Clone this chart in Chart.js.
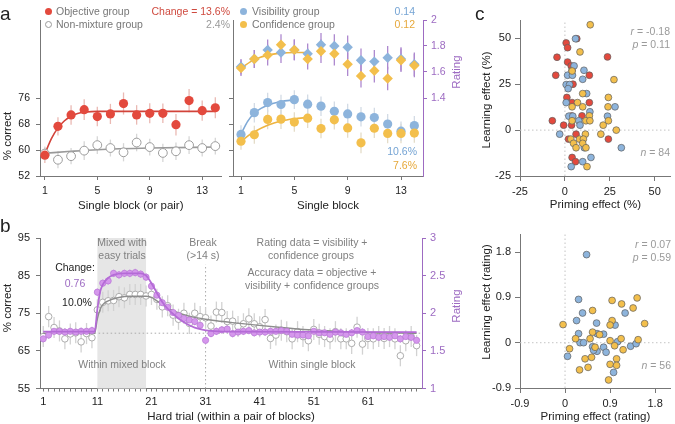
<!DOCTYPE html>
<html>
<head>
<meta charset="utf-8">
<title>Learning and priming effects</title>
<script src="https://cdn.jsdelivr.net/npm/chart.js@4.4.1/dist/chart.umd.min.js"></script>
<style>
  html, body { margin: 0; padding: 0; background: #fff; }
  #fig { position: relative; width: 675px; height: 424px; overflow: hidden;
         font-family: 'Liberation Sans', Arial, Helvetica, sans-serif; }
  #fig canvas { position: absolute; }
  .note { position: absolute; white-space: nowrap; line-height: 1; font-size: 10.5px; }
  .dot { position: absolute; width: 7px; height: 7px; border-radius: 50%; box-sizing: border-box; }
</style>
</head>
<body>
<div id="fig">
  <canvas id="aLeft" width="227" height="213" style="left:0;top:0"></canvas>
  <canvas id="aRight" width="239" height="213" style="left:226px;top:0"></canvas>
  <canvas id="bChart" width="465" height="209" style="left:0;top:215px"></canvas>
  <canvas id="cTop" width="212" height="212" style="left:463px;top:0"></canvas>
  <canvas id="cBottom" width="212" height="208" style="left:463px;top:216px"></canvas>
</div>
<script>
Chart.defaults.font.family = "'Liberation Sans', Arial, Helvetica, sans-serif"
Chart.defaults.color = '#222'

const RED = '#e3493d', BLUE = '#8db4dc', YELLOW = '#f3bf4c'
const PURPLE = '#9d6bc2', PURPLE_FILL = '#d597ec', PURPLE_LINE = '#b46bd6'
const AXIS = '#777'

// ---- panel a: per-block accuracy / rating ----
const blocks = [1, 2, 3, 4, 5, 6, 7, 8, 9, 10, 11, 12, 13, 14]
const blockTicks = [1, 5, 9, 13]
const pctTicksA = [52, 60, 68, 76]
const ratingTicksA = [1.4, 1.6, 1.8, 2]

const objectivePct = [58.4, 67.3, 70.8, 72.4, 70.3, 71.1, 74.3, 70.8, 71.3, 71.3, 67.8, 75.2, 72.1, 73.0]
const objectiveErr = [2.4, 2.8, 3.0, 3.2, 3.0, 3.1, 3.4, 3.0, 3.1, 3.0, 3.3, 3.6, 3.1, 3.2]
const nonMixPct = [58.9, 57.0, 58.1, 59.8, 61.5, 60.6, 59.3, 62.3, 60.9, 59.1, 59.6, 61.5, 60.6, 61.2]
const nonMixErr = [2.2, 2.6, 2.5, 2.9, 2.7, 2.6, 2.8, 2.7, 2.6, 2.8, 2.7, 2.7, 2.6, 2.6]
const objectiveFitX = [1, 1.5, 2, 2.5, 3, 3.5, 4, 5, 14]
const objectiveFitY = [58.8, 63.5, 66.8, 69.0, 70.4, 71.2, 71.6, 71.9, 71.9]
const nonMixFitX = [1, 3, 5, 9, 14]
const nonMixFitY = [59.0, 59.6, 60.1, 60.6, 60.9]

const visibilityPct = [64.8, 71.5, 74.6, 74.0, 75.5, 74.1, 73.5, 71.9, 71.1, 70.2, 70.0, 68.0, 65.8, 67.5]
const visibilityPctErr = [2.8, 3.0, 3.0, 3.0, 2.9, 3.0, 3.0, 3.0, 3.1, 3.0, 3.0, 3.1, 3.0, 3.0]
const confidencePct = [62.7, 64.7, 69.4, 69.5, 68.6, 69.8, 66.6, 69.3, 66.8, 62.2, 66.7, 65.1, 65.1, 65.2]
const confidencePctErr = [2.6, 2.8, 3.0, 3.0, 3.0, 3.0, 3.0, 3.0, 3.0, 3.2, 3.0, 3.0, 3.0, 3.0]
const visibilityRating = [1.64, 1.70, 1.77, 1.75, 1.77, 1.74, 1.81, 1.80, 1.79, 1.69, 1.68, 1.71, 1.70, 1.66]
const confidenceRating = [1.63, 1.70, 1.73, 1.81, 1.77, 1.70, 1.76, 1.74, 1.66, 1.57, 1.61, 1.55, 1.69, 1.65]
const ratingErrA = [0.06, 0.07, 0.08, 0.08, 0.08, 0.08, 0.09, 0.09, 0.09, 0.09, 0.09, 0.09, 0.09, 0.09]
const visibilityFitX = [1, 1.5, 2, 2.5, 3, 4, 5]
const visibilityFitY = [64.9, 68.8, 71.3, 72.8, 73.8, 74.9, 75.4]
const confidenceFitX = [1, 1.5, 2, 3, 4, 5, 6]
const confidenceFitY = [62.6, 64.3, 65.6, 67.6, 68.9, 69.6, 70.0]
const ratingFitX = [1, 2, 3, 4, 5, 6]
const ratingFitY = [1.63, 1.695, 1.73, 1.745, 1.75, 1.75]

// ---- panel b: per-trial time course ----
const trials = Array.from({length: 70}, (_, i) => i + 1)
const trialLabels = [1, 11, 21, 31, 41, 51, 61]
const pctTicksB = [55, 65, 75, 85, 95]
const ratingTicksB = [1, 1.5, 2, 2.5, 3]
const accuracyPct = [
  68.8, 74.1, 71.2, 70.3, 68.2, 69.5, 69.8, 67.4, 69.6, 68.5,
  75.9, 77.9, 78.3, 78.4, 79.4, 79.1, 80.0, 80.0, 80.0, 79.6,
  80.0, 78.7, 76.7, 77.0, 74.5, 73.4, 75.0, 72.3, 75.0, 74.1,
  73.8, 71.6, 75.3, 75.2, 72.8, 72.9, 71.5, 72.2, 73.5, 72.2,
  71.4, 73.3, 68.3, 69.2, 70.5, 70.1, 68.2, 70.1, 68.8, 67.7,
  70.7, 69.4, 68.8, 68.2, 70.1, 68.2, 68.2, 67.0, 71.3, 66.8,
  68.3, 68.2, 68.8, 68.3, 68.8, 68.2, 63.7, 67.7, 68.8, 66.4]
const ratingB = [
  1.66, 1.71, 1.76, 1.76, 1.75, 1.76, 1.75, 1.76, 1.76, 1.77,
  2.28, 2.40, 2.43, 2.53, 2.51, 2.53, 2.53, 2.54, 2.52, 2.48,
  2.36, 2.24, 2.14, 2.08, 2.01, 1.97, 1.93, 1.91, 1.89, 1.84,
  1.64, 1.73, 1.76, 1.78, 1.79, 1.73, 1.75, 1.76, 1.77, 1.74,
  1.75, 1.75, 1.76, 1.76, 1.77, 1.76, 1.72, 1.71, 1.71, 1.70,
  1.76, 1.74, 1.74, 1.72, 1.75, 1.74, 1.72, 1.74, 1.77, 1.75,
  1.69, 1.70, 1.68, 1.69, 1.68, 1.70, 1.66, 1.69, 1.68, 1.64]
const accuracyErrB = 2.8
const ratingErrB = 0.05
const ratingFitBX = [1, 10.5, 11, 11.5, 12, 13, 14, 16, 19, 20, 21, 22, 23, 24, 25, 26, 27, 28, 29, 30, 32, 35, 70]
const ratingFitBY = [1.755, 1.755, 2.05, 2.28, 2.38, 2.47, 2.51, 2.53, 2.53, 2.50, 2.40, 2.27, 2.15, 2.06, 1.99, 1.93, 1.88, 1.84, 1.81, 1.79, 1.765, 1.755, 1.75]
const accuracyFitBX = [1, 10.5, 11, 11.5, 12, 13, 15, 17, 20, 21, 22, 23, 24, 25, 27, 29, 31, 33, 36, 40, 45, 50, 55, 60, 70]
const accuracyFitBY = [69.7, 69.7, 73.5, 76.0, 77.3, 78.3, 79.2, 79.5, 79.5, 79.2, 78.3, 77.3, 76.4, 75.7, 74.6, 73.9, 73.4, 73.0, 72.5, 71.9, 71.2, 70.6, 70.2, 69.9, 69.7]
const baselinePct = 69.7
const mixedTrials = [11, 20]
const breakTrial = 31

// ---- panel c: priming vs learning per participant ----
const effectTicks = [-25, 0, 25, 50]
const ratingEffectTicks = [-0.9, 0, 0.9, 1.8]
const objectiveEffects = [[6.6, 49.8], [0.7, 47.5], [1.5, 44.9], [-4.4, 39.7], [23.7, 39.9], [1.5, 37.1], [3.5, 35], [4, 32.6],
  [13.6, 29.9], [-5.1, 29.9], [4.5, 25], [1.1, 17.8], [4, 15], [13.6, 15], [-7, 5.1], [-0.7, 2.7], [3.7, 7.7], [9.5, 7.8],
  [3.7, 2.7], [6.2, -2.2], [2, -4.9], [24.2, -4.9], [4, -14.9], [5.9, -17.2]]
const visibilityEffects = [[5.9, 49.8], [5.1, 35], [10.6, 32.6], [1.5, 29.9], [4.2, 29.9], [9.9, 27.7], [0.7, 24.8], [2.6, 24.8],
  [1.8, 22.6], [12.1, 19.9], [0.7, 15], [27.9, 12.7], [13.9, 10], [2.2, 7.6], [4.4, 7.6], [23.7, 7.6], [7.7, 5.1], [8.4, 2.7],
  [-2.9, -2.2], [10.8, -9.6], [31.4, -9.6], [14.5, -14.9], [9.9, -17.2], [3.5, -19.9]]
const confidenceEffects = [[14.1, 57.4], [8.4, 42.6], [4, 32.2], [27.3, 27.5], [9.9, 19.9], [24.2, 17.8], [7, 15], [4, 12.7],
  [9.9, 12.7], [24, 12.7], [13.6, 7.8], [4, 5.1], [11.7, 5.1], [13.9, 5.1], [24.2, 5.1], [21.3, 2.7], [28.6, 0], [11.4, -2.2],
  [20, -2.2], [3.3, -4.9], [8.1, -4.9], [10.3, -4.9], [4.8, -7.2], [9.9, -7.2], [6.2, -9.6], [11.7, -9.6], [12.3, -19.9]]
const visibilityRatingEffects = [[0.43, 1.75], [0.27, 0.86], [0.35, 0.59], [1.2, 0.59], [0.23, 0.44], [0.63, 0.39], [1.0, 0.35],
  [0.64, 0.18], [0.77, 0.17], [0.27, 0.18], [0.3, 0.0], [0.37, 0.0], [0.05, -0.27], [0.55, -0.08], [0.77, -0.09], [0.82, -0.19],
  [0.64, -0.17], [1.05, 0.02], [1.31, -0.07], [1.42, -0.02], [0.97, -0.59], [0.57, -0.15]]
const confidenceRatingEffects = [[0.94, 0.84], [1.13, 0.77], [1.44, 0.89], [1.36, 0.69], [0.55, 0.64], [-0.04, 0.36], [0.94, 0.44],
  [0.9, 0.35], [1.59, 0.38], [0.55, 0.21], [0.69, 0.16], [0.21, 0.08], [0.09, -0.12], [0.6, -0.09], [0.9, 0.04], [0.99, -0.06],
  [1.12, 0.08], [1.16, -0.14], [1.46, 0.06], [0.4, -0.32], [0.53, -0.29], [0.46, -0.49], [0.29, -0.54], [1.03, -0.32],
  [0.9, -0.43], [1.03, -0.45], [0.87, -0.74], [0.5, 0.08]]

const xy = (xs, ys) => xs.map((x, i) => ({x: x, y: ys[i]}))
const pairs = list => list.map(p => ({x: p[0], y: p[1]}))

// vertical error bars, drawn under the points
const errorBars = {
  id: 'errorBars',
  beforeDatasetsDraw(chart){
    const ctx = chart.ctx
    chart.data.datasets.forEach(ds => {
      if(ds.errors === undefined) return
      const xs = chart.scales.x
      const ys = chart.scales[ds.yAxisID || 'y']
      ctx.save()
      ctx.strokeStyle = ds.errorColor
      ctx.lineWidth = 1.3
      ds.data.forEach((p, i) => {
        const e = Array.isArray(ds.errors) ? ds.errors[i] : ds.errors
        const px = xs.getPixelForValue(p.x)
        ctx.beginPath()
        ctx.moveTo(px, ys.getPixelForValue(p.y - e))
        ctx.lineTo(px, ys.getPixelForValue(p.y + e))
        ctx.stroke()
      })
      ctx.restore()
    })
  }
}

const shadedBand = {
  id: 'shadedBand',
  beforeDatasetsDraw(chart, args, opts){
    if(opts.from === undefined) return
    const {ctx, chartArea} = chart
    const x0 = chart.scales.x.getPixelForValue(opts.from)
    const x1 = chart.scales.x.getPixelForValue(opts.to)
    ctx.save()
    ctx.fillStyle = opts.color
    ctx.fillRect(x0, chartArea.top, x1 - x0, chartArea.bottom - chartArea.top)
    ctx.restore()
  }
}

// dotted reference lines at data values
const refLines = {
  id: 'refLines',
  beforeDatasetsDraw(chart, args, opts){
    const {ctx, chartArea} = chart
    const xs = chart.scales.x, ys = chart.scales[opts.yAxis || 'y']
    ctx.save()
    ctx.strokeStyle = opts.color || '#bbb'
    ctx.lineWidth = 1
    ctx.setLineDash(opts.dash || [1.5, 2.5])
    ;(opts.vertical || []).forEach(v => {
      const px = xs.getPixelForValue(v.at)
      ctx.beginPath()
      ctx.moveTo(px, v.from !== undefined ? ys.getPixelForValue(v.from) : chartArea.bottom)
      ctx.lineTo(px, v.to !== undefined ? ys.getPixelForValue(v.to) : chartArea.top)
      ctx.stroke()
    })
    ;(opts.horizontal || []).forEach(h => {
      const py = ys.getPixelForValue(h.at)
      ctx.beginPath()
      ctx.moveTo(h.from !== undefined ? xs.getPixelForValue(h.from) : chartArea.left, py)
      ctx.lineTo(chartArea.right, py)
      ctx.stroke()
    })
    ctx.restore()
  }
}

function axis(position, min, max, tickValues, size, extra = {}){
  const vertical = position === 'left' || position === 'right'
  const color = extra.color || AXIS
  return {
    type: 'linear', position: position, min: min, max: max,
    afterBuildTicks: s => { s.ticks = tickValues.map(v => ({value: v})) },
    afterFit: s => { if(vertical) s.width = size; else s.height = size },
    border: {display: true, color: color, width: 1},
    grid: {drawOnChartArea: false, drawTicks: true, tickLength: extra.tickLength || 4, tickColor: color},
    ticks: {
      color: extra.labelColor || '#222', padding: extra.padding !== undefined ? extra.padding : 4,
      autoSkip: false, maxRotation: 0, font: {size: extra.fontSize || 11},
      callback: extra.format || (v => String(v))
    },
    title: extra.title ? {display: true, text: extra.title, padding: 0, color: '#222', font: {size: 11.5}} : {display: false}
  }
}

function baseOptions(padding, scales, pluginOpts = {}){
  return {
    responsive: false, animation: false, events: [],
    layout: {padding: padding},
    plugins: Object.assign({legend: {display: false}, tooltip: {enabled: false}}, pluginOpts),
    scales: scales
  }
}

function points(data, o){
  return {
    type: 'scatter', data: data, yAxisID: o.axis || 'y',
    pointStyle: o.style || 'circle', pointRadius: o.r, pointHoverRadius: o.r,
    backgroundColor: o.fill, borderColor: o.stroke || o.fill, borderWidth: o.bw || 0,
    errors: o.errors, errorColor: o.errorColor
  }
}

function curve(data, color, o = {}){
  return {
    type: 'line', data: data, yAxisID: o.axis || 'y',
    borderColor: color, borderWidth: o.width || 1.6,
    pointRadius: 0, fill: false, tension: 0.4, cubicInterpolationMode: 'monotone'
  }
}

const ratingFmt = v => String(+v.toFixed(1))
const effectFmt = v => v === 0 ? '0' : v.toFixed(1)

// datasets listed top-most first (Chart.js draws index 0 last)
new Chart(document.getElementById('aLeft'), {
  type: 'scatter',
  data: {datasets: [
    points(xy(blocks, objectivePct), {r: 4.6, fill: RED, errors: objectiveErr, errorColor: '#eab9b3'}),
    points(xy(blocks, nonMixPct), {r: 4.4, fill: '#fff', stroke: '#9c9c9c', bw: 1, errors: nonMixErr, errorColor: '#d6d6d6'}),
    curve(xy(objectiveFitX, objectiveFitY), '#d2433a'),
    curve(xy(nonMixFitX, nonMixFitY), '#9a9a9a')
  ]},
  options: baseOptions({left: 0, top: 20, right: 0, bottom: 0}, {
    x: axis('bottom', 0.63, 14.48, blockTicks, 37, {title: 'Single block (or pair)', fontSize: 10.5, padding: 5}),
    y: axis('left', 52, 100, pctTicksA, 40, {fontSize: 10.5, padding: 6})
  }),
  plugins: [errorBars]
})

new Chart(document.getElementById('aRight'), {
  type: 'scatter',
  data: {datasets: [
    points(xy(blocks, confidenceRating), {axis: 'yR', style: 'rectRot', r: 5.2, fill: YELLOW, errors: ratingErrA, errorColor: '#ad88cf'}),
    points(xy(blocks, visibilityRating), {axis: 'yR', style: 'rectRot', r: 5.2, fill: BLUE, errors: ratingErrA, errorColor: '#ad88cf'}),
    points(xy(blocks, confidencePct), {r: 4.6, fill: YELLOW, errors: confidencePctErr, errorColor: '#e4dcc8'}),
    points(xy(blocks, visibilityPct), {r: 4.6, fill: BLUE, errors: visibilityPctErr, errorColor: '#d3dbe5'}),
    curve(xy(ratingFitX, ratingFitY), '#eeb440', {axis: 'yR'}),
    curve(xy(visibilityFitX, visibilityFitY), '#7fa9d6'),
    curve(xy(confidenceFitX, confidenceFitY), '#eeb440')
  ]},
  options: baseOptions({left: 0, top: 20, right: 0, bottom: 0}, {
    x: axis('bottom', 0.4, 14.65, blockTicks, 37, {title: 'Single block', fontSize: 10.5, padding: 5}),
    y: axis('left', 52, 100, pctTicksA, 7, {format: () => ''}),
    yR: axis('right', 0.8, 2.0, ratingTicksA, 42, {color: PURPLE, labelColor: PURPLE, fontSize: 10.5, format: ratingFmt})
  }),
  plugins: [errorBars]
})

new Chart(document.getElementById('bChart'), {
  type: 'scatter',
  data: {datasets: [
    curve(xy(ratingFitBX, ratingFitBY), PURPLE_LINE, {axis: 'yR', width: 1.8}),
    points(xy(trials, ratingB), {axis: 'yR', r: 3.1, fill: PURPLE_FILL, stroke: '#bb7ad8', bw: 0.8, errors: ratingErrB, errorColor: '#cfaee0'}),
    curve(xy(accuracyFitBX, accuracyFitBY), '#8d8d8d', {width: 1.4}),
    points(xy(trials, accuracyPct), {r: 3.3, fill: '#fff', stroke: '#a4a4a4', bw: 0.9, errors: accuracyErrB, errorColor: '#d2d2d2'})
  ]},
  options: baseOptions({left: 0, top: 23, right: 0, bottom: 0}, {
    x: axis('bottom', 0.4, 71, trials, 35.5, {title: 'Hard trial (within a pair of blocks)', tickLength: 3, padding: 4,
      format: v => trialLabels.includes(v) ? String(v) : ''}),
    y: axis('left', 55, 95, pctTicksB, 40, {padding: 6}),
    yR: axis('right', 1, 3, ratingTicksB, 43, {color: PURPLE, labelColor: PURPLE, format: ratingFmt})
  }, {
    shadedBand: {from: mixedTrials[0], to: mixedTrials[1], color: '#e6e6e6'},
    refLines: {color: '#aaa', horizontal: [{at: baselinePct, from: 10.5}], vertical: [{at: breakTrial, from: 55, to: 88}]}
  }),
  plugins: [shadedBand, refLines, errorBars]
})

const scatterMarker = {r: 3.4, bw: 0.7, stroke: '#5f5f5f'}

new Chart(document.getElementById('cTop'), {
  type: 'scatter',
  data: {datasets: [
    points(pairs(confidenceEffects), Object.assign({fill: YELLOW}, scatterMarker)),
    points(pairs(visibilityEffects), Object.assign({fill: BLUE}, scatterMarker)),
    points(pairs(objectiveEffects), Object.assign({fill: RED}, scatterMarker))
  ]},
  options: baseOptions({left: 16, top: 20, right: 2, bottom: 0}, {
    x: axis('bottom', -25, 59, effectTicks, 36, {title: 'Priming effect (%)', tickLength: 5, padding: 4}),
    y: axis('left', -25, 60, effectTicks, 41, {tickLength: 5, padding: 4})
  }, {
    refLines: {color: '#c4c4c4', horizontal: [{at: 0}], vertical: [{at: 0}]}
  }),
  plugins: [refLines]
})

new Chart(document.getElementById('cBottom'), {
  type: 'scatter',
  data: {datasets: [
    points(pairs(confidenceRatingEffects), Object.assign({fill: YELLOW}, scatterMarker)),
    points(pairs(visibilityRatingEffects), Object.assign({fill: BLUE}, scatterMarker))
  ]},
  options: baseOptions({left: 16, top: 18, right: 2, bottom: 0}, {
    x: axis('bottom', -0.9, 2.115, ratingEffectTicks, 36, {title: 'Priming effect (rating)', tickLength: 5, padding: 4, format: effectFmt}),
    y: axis('left', -0.9, 2.16, ratingEffectTicks, 41, {tickLength: 5, padding: 4, format: effectFmt})
  }, {
    refLines: {color: '#c4c4c4', horizontal: [{at: 0}], vertical: [{at: 0}]}
  }),
  plugins: [refLines]
})

// ---- text overlays ----
const fig = document.getElementById('fig')
function note(text, x, y, o = {}){
  const d = document.createElement('div')
  d.className = 'note'
  d.innerHTML = text
  d.style.left = x + 'px'
  d.style.top = y + 'px'
  d.style.color = o.color || '#222'
  if(o.size) d.style.fontSize = o.size + 'px'
  const tx = o.align === 'left' ? '0' : (o.align === 'right' ? '-100%' : '-50%')
  d.style.transform = 'translate(' + tx + ', -50%)' + (o.rotate ? ' rotate(-90deg)' : '')
  fig.appendChild(d)
}
function dot(x, y, fill, stroke){
  const d = document.createElement('div')
  d.className = 'dot'
  d.style.left = (x - 3.5) + 'px'
  d.style.top = (y - 3.5) + 'px'
  d.style.background = fill
  if(stroke) d.style.border = '1px solid ' + stroke
  fig.appendChild(d)
}

const LEGEND_TXT = '#777', NOTE_TXT = '#808080', STAT_TXT = '#9a9a9a'
const RED_TXT = '#cf4a3f', BLUE_TXT = '#75a4d4', YELLOW_TXT = '#e6a83a'

// panel a
note('a', 0, 13, {size: 19, align: 'left'})
dot(48, 11, RED); note('Objective group', 56, 11, {align: 'left', color: LEGEND_TXT})
dot(48, 24, '#fff', '#999'); note('Non-mixture group', 56, 24, {align: 'left', color: LEGEND_TXT})
note('Change = 13.6%', 230, 11, {align: 'right', color: RED_TXT})
note('2.4%', 230, 24, {align: 'right', color: STAT_TXT})
dot(243, 11, BLUE); note('Visibility group', 252, 11, {align: 'left', color: LEGEND_TXT})
dot(243, 24, YELLOW); note('Confidence group', 252, 24, {align: 'left', color: LEGEND_TXT})
note('0.14', 415, 11, {align: 'right', color: BLUE_TXT})
note('0.12', 415, 24, {align: 'right', color: YELLOW_TXT})
note('10.6%', 417, 151, {align: 'right', color: BLUE_TXT})
note('7.6%', 417, 165, {align: 'right', color: YELLOW_TXT})
note('% correct', 8, 136, {rotate: true, size: 11.5})
note('Rating', 457, 72, {rotate: true, size: 11.5, color: PURPLE})

// panel b
note('b', 0, 225, {size: 19, align: 'left'})
note('Mixed with', 122, 242, {color: NOTE_TXT})
note('easy trials', 122, 255, {color: NOTE_TXT})
note('Break', 203, 242, {color: NOTE_TXT})
note('(&gt;14 s)', 203, 255, {color: NOTE_TXT})
note('Rating data = visibility +', 312, 242, {color: NOTE_TXT})
note('confidence groups', 311, 255, {color: NOTE_TXT})
note('Accuracy data = objective +', 312, 272, {color: NOTE_TXT})
note('visibility + confidence groups', 312, 285, {color: NOTE_TXT})
note('Change:', 75, 267)
note('0.76', 75, 283, {color: PURPLE})
note('10.0%', 77, 302)
note('Within mixed block', 122, 364, {color: NOTE_TXT})
note('Within single block', 312, 364, {color: NOTE_TXT})
note('% correct', 8, 308, {rotate: true, size: 11.5})
note('Rating', 457, 306, {rotate: true, size: 11.5, color: PURPLE})

// panel c
note('c', 475, 13, {size: 19, align: 'left'})
note('<i>r</i> = -0.18', 670, 31, {align: 'right', color: STAT_TXT})
note('<i>p</i> = 0.11', 670, 44, {align: 'right', color: STAT_TXT})
note('<i>n</i> = 84', 670, 152, {align: 'right', color: STAT_TXT})
note('Learning effect (%)', 487, 100, {rotate: true, size: 11.5})
note('<i>r</i> = 0.07', 671, 244, {align: 'right', color: STAT_TXT})
note('<i>p</i> = 0.59', 671, 257, {align: 'right', color: STAT_TXT})
note('<i>n</i> = 56', 671, 365, {align: 'right', color: STAT_TXT})
note('Learning effect (rating)', 487, 302, {rotate: true, size: 11.5})
</script>
</body>
</html>
